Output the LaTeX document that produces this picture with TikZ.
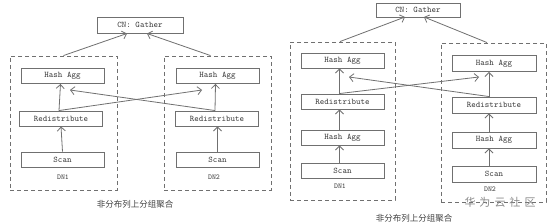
\documentclass[tikz,border=0pt]{standalone}
\usepackage{fontspec}
\newfontfamily\cjk{Noto Sans CJK SC}
\usetikzlibrary{arrows.meta}
\definecolor{linegray}{HTML}{707070}
\definecolor{textgray}{HTML}{404040}
\definecolor{wmgray}{HTML}{8A8A8A}
\tikzset{
  opbox/.style={draw=linegray, line width=0.9pt, rectangle, minimum height=15pt, minimum width=83pt,
    inner sep=0pt, font=\ttfamily\fontsize{8.6}{9}\selectfont, text=textgray},
  dnbox/.style={draw=linegray, line width=0.9pt, dash pattern=on 4pt off 3pt, rectangle, inner sep=0pt},
  dnlabel/.style={font=\ttfamily\fontsize{7.5}{8}\selectfont, text=textgray, inner sep=0pt},
  flow/.style={draw=linegray, line width=0.8pt, -{Straight Barb[length=4pt, width=8pt, line width=0.8pt]}},
  caption/.style={font=\cjk\fontsize{8.5}{9}\selectfont, text=textgray, inner sep=0pt}
}
\begin{document}
\begin{tikzpicture}[x=1pt, y=-1pt]
\useasboundingbox (0,0) rectangle (554,224);
\fill[white] (0,0) rectangle (554,224);

% ---------------- left diagram ----------------
\node[opbox, minimum width=86pt, minimum height=16pt] (cnL) at (140,25) {CN: Gather};
\node[dnbox, minimum width=107pt, minimum height=134pt] (dn1L) at (63.5,123) {};
\node[dnbox, minimum width=107pt, minimum height=134pt] (dn2L) at (217.5,123) {};

\node[opbox] (haL1) at (62.5,76) {Hash Agg};
\node[opbox] (rdL1) at (61,118.5) {Redistribute};
\node[opbox] (scL1) at (62.5,159.5) {Scan};
\node[dnlabel] (lbL1) at (63,177) {DN1};

\node[opbox] (haL2) at (217.5,76) {Hash Agg};
\node[opbox] (rdL2) at (217,118.5) {Redistribute};
\node[opbox] (scL2) at (217.5,159.5) {Scan};
\node[dnlabel] (lbL2) at (214,177) {DN2};

\node[caption] (capL) at (135,204) {非分布列上分组聚合};

\coordinate (cnLa) at (127,33.5);
\coordinate (cnLb) at (147,33.5);
\coordinate (xL1) at (70,90);
\coordinate (xL2) at (202,90);

\draw[flow] (dn1L.north) -- (cnLa);
\draw[flow] ([xshift=-7pt]dn2L.north) -- (cnLb);
\draw[flow] (scL1.north) -- (rdL1.south);
\draw[flow] (scL2.north) -- (scL2.north |- rdL2.south);
\draw[flow] ([xshift=-2pt]rdL1.north) -- ([xshift=-2pt]haL1.south);
\draw[flow] ([xshift=-2pt]rdL2.north) -- ([xshift=-2pt]haL2.south);
\draw[flow] ([xshift=-2pt]rdL1.north) -- (xL2);
\draw[flow] ([xshift=-2pt]rdL2.north) -- (xL1);

% ---------------- right diagram ----------------
\node[opbox, minimum width=84pt, minimum height=14pt] (cnR) at (418,10) {CN: Gather};
\node[dnbox, minimum width=105pt, minimum height=158pt] (dn1R) at (342.5,121) {};
\node[dnbox, minimum width=105pt, minimum height=159pt] (dn2R) at (493.5,122.5) {};

\node[opbox] (haR1) at (342.5,60.5) {Hash Agg};
\node[opbox] (rdR1) at (342.5,101.5) {Redistribute};
\node[opbox] (hbR1) at (342.5,137.5) {Hash Agg};
\node[opbox] (scR1) at (342.5,171) {Scan};
\node[dnlabel] (lbR1) at (340,186) {DN1};

\node[opbox, minimum width=84pt, minimum height=16pt] (haR2) at (494,63.5) {Hash Agg};
\node[opbox, minimum width=84pt, minimum height=16pt] (rdR2) at (494,105) {Redistribute};
\node[opbox, minimum width=84pt, minimum height=16pt] (hbR2) at (494,140) {Hash Agg};
\node[opbox, minimum width=84pt, minimum height=16pt] (scR2) at (494,174) {Scan};
\node[dnlabel] (lbR2) at (490,189) {DN2};

\node[caption] (capR) at (414,218) {非分布列上分组聚合};
\node[font=\cjk\fontsize{11}{12}\selectfont, text=wmgray, inner sep=0pt] (wm) at (500,202) {华\hspace{4pt}为\hspace{4pt}云\hspace{4pt}社\hspace{4pt}区};

\coordinate (cnRa) at (405,17);
\coordinate (cnRb) at (424,17);
\coordinate (xR1) at (349,77);
\coordinate (xR2) at (479,77);

\draw[flow] ([xshift=-2.5pt]dn1R.north) -- (cnRa);
\draw[flow] ([xshift=-6.5pt]dn2R.north) -- (cnRb);
\draw[flow] ([xshift=-3pt]scR1.north) -- ([xshift=-3pt]hbR1.south);
\draw[flow] ([xshift=-3pt]hbR1.north) -- ([xshift=-3pt]rdR1.south);
\draw[flow] ([xshift=-3pt]rdR1.north) -- ([xshift=-3pt]haR1.south);
\draw[flow] ([xshift=-5pt]scR2.north) -- ([xshift=-5pt]hbR2.south);
\draw[flow] ([xshift=-5pt]hbR2.north) -- ([xshift=-5pt]rdR2.south);
\draw[flow] ([xshift=-5pt]rdR2.north) -- ([xshift=-5pt]haR2.south);
\draw[flow] ([xshift=-3pt]rdR1.north) -- (xR2);
\draw[flow] ([xshift=-5pt]rdR2.north) -- (xR1);
\end{tikzpicture}
\end{document}
